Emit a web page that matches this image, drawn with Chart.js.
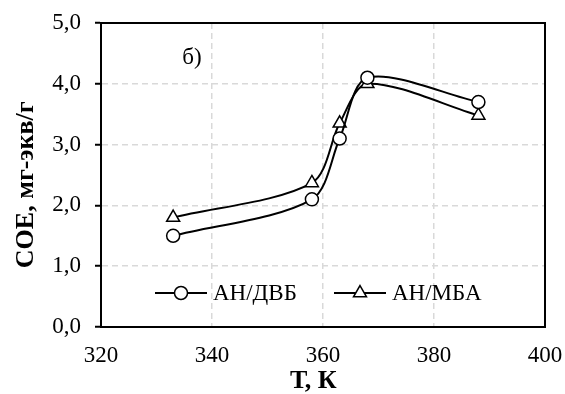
<!DOCTYPE html>
<html>
<head>
<meta charset="utf-8">
<script src="https://cdn.jsdelivr.net/npm/chart.js@4.4.1/dist/chart.umd.min.js"></script>
<style>
html,body{margin:0;padding:0;background:#fff;}
#wrap{width:565px;height:394px;position:relative;}
</style>
</head>
<body>
<div id="wrap"><canvas id="c" width="565" height="394"></canvas></div>
<script>
const temperatures = [333, 358, 363, 368, 388];
const seriesDVB = [1.5, 2.1, 3.1, 4.1, 3.7];
const seriesMBA = [1.8, 2.37, 3.35, 4.0, 3.48];
const seriesNames = ['АН/ДВБ', 'АН/МБА'];
const xTickValues = [320, 340, 360, 380, 400];
const yTickValues = [0, 1, 2, 3, 4, 5];
const xTitle = 'Т, К';
const yTitle = 'СОЕ, мг-экв/г';
const panelLabel = 'б)';

const FONT = '"Liberation Serif", "Times New Roman", serif';
const PAD3 = '\u00A0\u00A0\u00A0';

function toPoints(xs, ys){ return xs.map((x,i)=>({x:x, y:ys[i]})); }

const frame = {
  id:'frame',
  afterDraw(chart){
    const {ctx, chartArea:a} = chart;
    ctx.save();
    ctx.strokeStyle = '#000';
    ctx.lineWidth = 2;
    ctx.strokeRect(a.left, a.top, a.right - a.left, a.bottom - a.top);
    // panel label
    ctx.fillStyle = '#000';
    ctx.font = '23px ' + FONT;
    ctx.textAlign = 'center';
    ctx.textBaseline = 'middle';
    ctx.fillText(panelLabel, a.left + 91, a.top + 35);
    // legend
    const items = [
      {x0: a.left + 54, ds: chart.data.datasets[0]},
      {x0: a.left + 233, ds: chart.data.datasets[1]}
    ];
    const ly = a.top + 270;
    items.forEach(it=>{
      const ds = it.ds;
      ctx.strokeStyle = '#000';
      ctx.lineWidth = 2;
      ctx.beginPath();
      ctx.moveTo(it.x0, ly);
      ctx.lineTo(it.x0 + 52, ly);
      ctx.stroke();
      ctx.fillStyle = '#fff';
      ctx.lineWidth = 1.5;
      Chart.helpers.drawPoint(ctx, {pointStyle: ds.pointStyle, radius: ds.pointRadius, borderWidth: 1.5, rotation: 0}, it.x0 + 26, ly);
      ctx.fillStyle = '#000';
      ctx.font = '23px ' + FONT;
      ctx.textAlign = 'left';
      ctx.textBaseline = 'middle';
      ctx.fillText(ds.label, it.x0 + 58, ly + 1);
    });
    ctx.restore();
  }
};

new Chart(document.getElementById('c'), {
  type: 'line',
  data: {
    datasets: [
      {
        label: seriesNames[0],
        data: toPoints(temperatures, seriesDVB),
        borderColor: '#000',
        borderWidth: 2,
        pointStyle: 'circle',
        pointRadius: 6.5,
        pointBackgroundColor: '#fff',
        pointBorderColor: '#000',
        pointBorderWidth: 1.5,
        tension: 0.3,
        fill: false
      },
      {
        label: seriesNames[1],
        data: toPoints(temperatures, seriesMBA),
        borderColor: '#000',
        borderWidth: 2,
        pointStyle: 'triangle',
        pointRadius: 7.5,
        pointBackgroundColor: '#fff',
        pointBorderColor: '#000',
        pointBorderWidth: 1.5,
        tension: 0.3,
        fill: false
      }
    ]
  },
  options: {
    responsive: false,
    animation: false,
    devicePixelRatio: 1,
    layout: {padding: {top: 23, right: 20, left: 0, bottom: 0}},
    plugins: {legend: {display: false}, tooltip: {enabled: false}},
    scales: {
      x: {
        type: 'linear',
        min: 320, max: 400,
        afterBuildTicks(s){ s.ticks = xTickValues.map(v=>({value:v})); },
        afterFit(s){ s.height = 67; s.paddingLeft = 0; s.paddingRight = 0; },
        grid: {color: '#d9d9d9', lineWidth: 1.5, drawTicks: false},
        border: {display: true, color: '#000', width: 2, dash: [6,4]},
        ticks: {color: '#000', font: {family: FONT, size: 23}, padding: 15, maxRotation: 0},
        title: {display: true, text: xTitle + PAD3, color: '#000', font: {family: FONT, size: 26, weight: 'bold', lineHeight: 1.0}, padding: {top: 0, bottom: 0}}
      },
      y: {
        min: 0, max: 5,
        afterBuildTicks(s){ s.ticks = yTickValues.map(v=>({value:v})); },
        afterFit(s){ s.width = 101; s.paddingTop = 0; s.paddingBottom = 0; },
        grid: {color: '#d9d9d9', lineWidth: 1.5, drawTicks: true, tickLength: 6, tickColor: '#000', tickWidth: 2, tickBorderDash: []},
        border: {display: true, color: '#000', width: 2, dash: [6,4]},
        ticks: {color: '#000', font: {family: FONT, size: 23}, padding: 14, callback: v => v.toFixed(1).replace('.', ',')},
        title: {display: true, text: yTitle + PAD3, color: '#000', font: {family: FONT, size: 26, weight: 'bold', lineHeight: 1.0}, padding: {top: 13, bottom: 0}}
      }
    }
  },
  plugins: [frame]
});
</script>
</body>
</html>
